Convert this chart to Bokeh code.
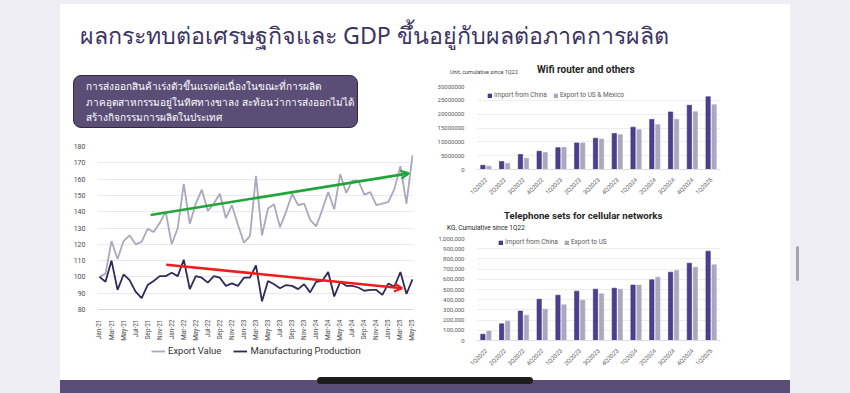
import math
from bokeh.plotting import figure
from bokeh.models import (ColumnDataSource, Div, Legend, LegendItem, FixedTicker,
                          Arrow, OpenHead, NumeralTickFormatter, Range1d)
from bokeh.layouts import row, column
from bokeh.transform import dodge
from bokeh.embed import file_html
from bokeh.resources import INLINE

# ---------------- data ----------------
months = ["Jan-21", "Feb-21", "Mar-21", "Apr-21", "May-21", "Jun-21", "Jul-21", "Aug-21", "Sep-21", "Oct-21", "Nov-21", "Dec-21",
          "Jan-22", "Feb-22", "Mar-22", "Apr-22", "May-22", "Jun-22", "Jul-22", "Aug-22", "Sep-22", "Oct-22", "Nov-22", "Dec-22",
          "Jan-23", "Feb-23", "Mar-23", "Apr-23", "May-23", "Jun-23", "Jul-23", "Aug-23", "Sep-23", "Oct-23", "Nov-23", "Dec-23",
          "Jan-24", "Feb-24", "Mar-24", "Apr-24", "May-24", "Jun-24", "Jul-24", "Aug-24", "Sep-24", "Oct-24", "Nov-24", "Dec-24",
          "Jan-25", "Feb-25", "Mar-25", "Apr-25", "May-25"]
export_value = [100, 102, 122, 111, 122, 125.5, 120, 121.5, 129.5, 127.5, 133, 140,
                120, 130, 157, 132.5, 145, 153.5, 140.5, 145, 151, 136, 144, 132,
                121, 125, 162, 125.5, 142, 144.5, 130.5, 140, 151, 144, 145, 135,
                131, 141, 152, 141.5, 163, 151.5, 159, 159, 150.5, 152, 144, 145,
                146, 154, 168, 145, 174.5]
manufacturing = [100, 97, 110, 92, 101.5, 98, 91, 87, 95, 97.5, 100.5, 100.5,
                 102.5, 100.5, 110.5, 92.5, 100.5, 99.5, 96.5, 100.5, 99.5, 94.5, 96, 94.5,
                 99.5, 99.5, 107, 85, 97.5, 95.5, 93, 95, 94.5, 92.5, 95.5, 90.5,
                 97, 97.5, 103, 88, 97, 94.5, 94.5, 93.5, 91.5, 92, 92, 89,
                 96, 94, 103, 89.5, 98.5]
# trend arrows (month index, value)
green_trend_x = [8.5, 51.4]
green_trend_y = [138, 163.5]
red_trend_x = [11.1, 50.3]
red_trend_y = [107.5, 93]

quarters = ["1Q2022", "2Q2022", "3Q2022", "4Q2022", "1Q2023", "2Q2023", "3Q2023",
            "4Q2023", "1Q2024", "2Q2024", "3Q2024", "4Q2024", "1Q2025"]
wifi_import_china = [1.5e6, 2.9e6, 5.4e6, 6.6e6, 7.9e6, 9.6e6, 11.3e6, 13.0e6, 15.3e6, 18.1e6, 20.8e6, 23.2e6, 26.3e6]
wifi_export_us_mx = [1.2e6, 2.2e6, 4.1e6, 6.1e6, 8.0e6, 9.6e6, 11.0e6, 12.6e6, 14.4e6, 16.2e6, 18.2e6, 20.9e6, 23.4e6]
phone_import_china = [62000, 163000, 288000, 405000, 444000, 484000, 503000, 513000, 543000, 595000, 670000, 758000, 876000]
phone_export_us = [92000, 190000, 248000, 307000, 350000, 395000, 458000, 503000, 543000, 621000, 686000, 719000, 742000]

# ---------------- style ----------------
BG = "#efeef4"
PURPLE = "#5a4e77"
TITLE_C = "#3c3462"
GRID = "#e9e8ef"
LABEL_C = "#4a4a4a"
EXPORT_C = "#aba8bd"
MFG_C = "#2f2a57"
CHINA_C = "#4b3f8e"
EXP_BAR_C = "#aba8bd"
FONT = "Roboto"

# ---------------- left line chart ----------------
idx = list(range(len(months)))
src = ColumnDataSource(dict(x=idx, export=export_value, mfg=manufacturing))

lp = figure(width=360, height=215, output_backend="svg", toolbar_location=None,
            x_range=Range1d(-0.33, 52.17), y_range=Range1d(80, 180),
            min_border_left=37, min_border_right=7, min_border_top=18, min_border_bottom=31,
            margin=0)
lp.outline_line_color = None
lp.background_fill_color = "white"
lp.border_fill_color = "white"
lp.xgrid.grid_line_color = None
lp.ygrid.grid_line_color = GRID
lp.ygrid.grid_line_width = 1.2
lp.yaxis.ticker = FixedTicker(ticks=list(range(80, 181, 10)))
lp.xaxis.ticker = FixedTicker(ticks=list(range(0, 53, 2)))
lp.xaxis.major_label_overrides = {i: months[i] for i in range(0, 53, 2)}
lp.xaxis.major_label_orientation = math.pi / 2
for ax in (lp.xaxis, lp.yaxis):
    ax.major_tick_line_color = None
    ax.minor_tick_line_color = None
    ax.major_label_text_font = FONT
    ax.major_label_text_font_size = "7px"
    ax.major_label_text_color = LABEL_C
lp.xaxis.major_label_text_font_size = "6.5px"
lp.yaxis.axis_line_color = None
lp.yaxis.major_label_standoff = 6
lp.xaxis.axis_line_color = "#d9d9d9"
lp.xaxis.major_label_standoff = 4

lp.line("x", "export", source=src, line_color=EXPORT_C, line_width=1.8)
lp.line("x", "mfg", source=src, line_color=MFG_C, line_width=1.8)

lp.add_layout(Arrow(end=OpenHead(size=8, line_color="#1fa53a", line_width=2.2),
                    x_start=green_trend_x[0], y_start=green_trend_y[0],
                    x_end=green_trend_x[1], y_end=green_trend_y[1],
                    line_color="#1fa53a", line_width=2.6))
lp.add_layout(Arrow(end=OpenHead(size=8, line_color="#ee1d1d", line_width=2.2),
                    x_start=red_trend_x[0], y_start=red_trend_y[0],
                    x_end=red_trend_x[1], y_end=red_trend_y[1],
                    line_color="#ee1d1d", line_width=2.6))

# legend strip under the line chart: same series, drawn outside its visible range
lf = figure(width=360, height=30, output_backend="svg", toolbar_location=None,
            x_range=Range1d(0, 52), y_range=Range1d(0, 1), x_axis_type=None, y_axis_type=None,
            min_border=0, margin=0)
lf.outline_line_color = None
lf.grid.grid_line_color = None
k_exp = lf.line("x", "export", source=src, line_color=EXPORT_C, line_width=1.8)
k_mfg = lf.line("x", "mfg", source=src, line_color=MFG_C, line_width=1.8)
leg = Legend(items=[LegendItem(label="Export Value", renderers=[k_exp]),
                    LegendItem(label="Manufacturing Production", renderers=[k_mfg])],
             orientation="horizontal", location=(54, 17), border_line_color=None,
             background_fill_alpha=0, label_text_font=FONT, label_text_font_size="9.5px",
             label_text_color="#333333", glyph_width=14, glyph_height=10, label_height=10,
             label_standoff=3, spacing=12, padding=2, margin=0)
lf.add_layout(leg, "center")


# ---------------- bar charts ----------------
def bar_chart(height, bl, br, bt, bb, china, other, other_label, ymax, ystep, fmt,
              leg_x, leg_y):
    s = ColumnDataSource(dict(x=list(range(len(quarters))), a=china, b=other))
    p = figure(width=370, height=height, output_backend="svg", toolbar_location=None,
               x_range=Range1d(-0.5, len(quarters) - 0.5), y_range=Range1d(0, ymax),
               min_border_left=bl, min_border_right=br, min_border_top=bt, min_border_bottom=bb,
               margin=0)
    p.outline_line_color = None
    p.xgrid.grid_line_color = None
    p.ygrid.grid_line_color = "#eeeef2"
    p.yaxis.ticker = FixedTicker(ticks=[i * ystep for i in range(int(round(ymax / ystep)) + 1)])
    p.yaxis.formatter = NumeralTickFormatter(format=fmt)
    p.xaxis.ticker = FixedTicker(ticks=list(range(len(quarters))))
    p.xaxis.major_label_overrides = {i: q for i, q in enumerate(quarters)}
    p.xaxis.major_label_orientation = math.pi / 4
    for ax in (p.xaxis, p.yaxis):
        ax.major_tick_line_color = None
        ax.minor_tick_line_color = None
        ax.major_label_text_font = FONT
        ax.major_label_text_font_size = "6px"
        ax.major_label_text_color = "#595959"
    p.yaxis.axis_line_color = None
    p.yaxis.major_label_standoff = 6
    p.xaxis.axis_line_color = "#dcdce2"
    p.xaxis.major_label_standoff = 3
    ra = p.vbar(x=dodge("x", -0.16, range=p.x_range), top="a", width=0.23, source=s,
                fill_color=CHINA_C, line_color="#3a3078", line_width=0.6)
    rb = p.vbar(x=dodge("x", 0.16, range=p.x_range), top="b", width=0.23, source=s,
                fill_color=EXP_BAR_C, line_color=EXP_BAR_C, line_width=0.6)
    lg = Legend(items=[LegendItem(label="Import from China", renderers=[ra]),
                       LegendItem(label=other_label, renderers=[rb])],
                orientation="horizontal", location=(leg_x, leg_y), border_line_color=None,
                background_fill_alpha=0, label_text_font=FONT, label_text_font_size="6.5px",
                label_text_color="#595959", glyph_width=5, glyph_height=5, label_height=8,
                label_standoff=2, spacing=6, padding=0, margin=0)
    p.add_layout(lg, "center")
    return p


top_fig = bar_chart(126, 56, 67, 4, 39, wifi_import_china, wifi_export_us_mx,
                    "Export to US & Mexico", 30e6, 5e6, "0", 11, 70)
bot_fig = bar_chart(140, 55, 70, 5, 33, phone_import_china, phone_export_us,
                    "Export to US", 1e6, 1e5, "0,0", 22, 94)

# ---------------- html blocks ----------------
top_gray = Div(width=730, height=4, margin=0, styles={"background-color": BG}, text="")

title_div = Div(width=730, height=58, margin=0,
                styles={"background-color": "white"},
                text=f'<div style="position:relative;width:730px;height:58px;">'
                     f'<div style="position:absolute;left:20px;top:16px;font-family:\'Noto Sans\',sans-serif;'
                     f'font-size:23.2px;line-height:30px;color:{TITLE_C};white-space:nowrap;">'
                     f'ผลกระทบต่อเศรษฐกิจและ GDP ขึ้นอยู่กับผลต่อภาคการผลิต</div></div>')

box_text = ("การส่งออกสินค้าเร่งตัวขึ้นแรงต่อเนื่องในขณะที่การผลิต<br>"
            "ภาคอุตสาหกรรมอยู่ในทิศทางขาลง สะท้อนว่าการส่งออกไม่ได้<br>"
            "สร้างกิจกรรมการผลิตในประเทศ")
box_div = Div(width=360, height=66, margin=0, styles={"background-color": "white"},
              text=f'<div style="position:relative;width:360px;height:66px;">'
                   f'<div style="position:absolute;left:13px;top:13px;width:285px;height:53px;'
                   f'box-sizing:border-box;background:{PURPLE};border:1px solid #2f2946;border-radius:8px;'
                   f'padding:3px 0 0 12px;color:white;font-family:\'Noto Sans\',sans-serif;font-size:10px;'
                   f'line-height:15.5px;white-space:nowrap;">{box_text}</div></div>')

top_head = Div(width=370, height=20, margin=0, styles={"background-color": "white"},
               text='<div style="position:relative;width:370px;height:20px;font-family:Roboto,sans-serif;">'
                    '<div style="position:absolute;left:30px;top:6px;font-size:5.5px;line-height:8px;color:#404040;white-space:nowrap;">'
                    'Unit, cumulative since 1Q22</div>'
                    '<div style="position:absolute;left:117px;top:2px;font-size:10px;font-weight:bold;line-height:12px;color:#262626;white-space:nowrap;">'
                    'Wifi router and others</div></div>')
bot_head = Div(width=370, height=25, margin=0, styles={"background-color": "white"},
               text='<div style="position:relative;width:370px;height:25px;font-family:Roboto,sans-serif;">'
                    '<div style="position:absolute;left:84px;top:2px;font-size:9.7px;font-weight:bold;line-height:12px;color:#262626;white-space:nowrap;">'
                    'Telephone sets for cellular networks</div>'
                    '<div style="position:absolute;left:27px;top:16px;font-size:6.5px;line-height:8px;color:#262626;white-space:nowrap;">'
                    'KG, Cumulative since 1Q22</div></div>')

bottom_div = Div(width=730, height=20, margin=0,
                 styles={"background": f"linear-gradient(to bottom, white 0px, white 7px, {PURPLE} 7px, {PURPLE} 20px)"},
                 text='<div style="position:relative;width:730px;height:20px;">'
                      '<div style="position:absolute;left:257px;top:4px;width:216px;height:7px;'
                      'border-radius:3.5px;background:#1e1e1e;"></div></div>')

left_gray = Div(width=60, height=393, margin=0, styles={"background-color": BG}, text="")
right_gray = Div(width=60, height=393, margin=0, styles={"background-color": BG},
                 text='<div style="position:relative;width:60px;height:393px;">'
                      '<div style="position:absolute;left:6px;top:246px;width:3px;height:35px;'
                      'border-radius:2px;background:#a5a5a8;"></div></div>')

left_col = column(box_div, lp, lf, spacing=0, margin=0)
right_col = column(top_head, top_fig, bot_head, bot_fig, spacing=0, margin=0)
body = row(left_col, right_col, spacing=0, margin=0)
slide = column(top_gray, title_div, body, bottom_div, spacing=0, margin=0)
page = row(left_gray, slide, right_gray, spacing=0, margin=0)

open("out.html", "w").write(file_html(page, INLINE))
